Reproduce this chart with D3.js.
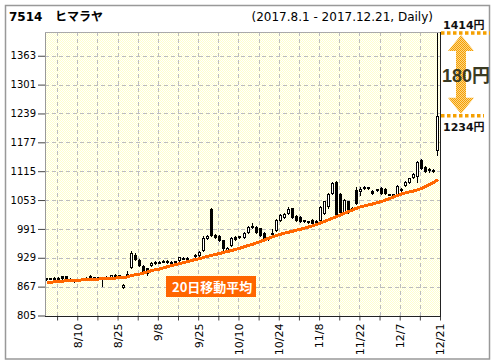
<!DOCTYPE html>
<html><head><meta charset="utf-8">
<script src="https://cdn.jsdelivr.net/npm/d3@7"></script>
<style>body{margin:0;background:#fff}svg{display:block}</style>
</head><body><svg id="c" width="496" height="364"></svg>
<script>
const dates = ["8/1","8/2","8/3","8/4","8/7","8/8","8/9","8/10","8/14","8/15","8/16","8/17","8/18","8/21","8/22","8/23","8/24","8/25","8/28","8/29","8/30","8/31",
"9/1","9/4","9/5","9/6","9/7","9/8","9/11","9/12","9/13","9/14","9/15","9/19","9/20","9/21","9/22","9/25","9/26","9/27","9/28","9/29",
"10/2","10/3","10/4","10/5","10/6","10/10","10/11","10/12","10/13","10/16","10/17","10/18","10/19","10/20","10/23","10/24","10/25","10/26","10/27","10/30","10/31",
"11/1","11/2","11/6","11/7","11/8","11/9","11/10","11/13","11/14","11/15","11/16","11/17","11/20","11/21","11/22","11/24","11/27","11/28","11/29","11/30",
"12/1","12/4","12/5","12/6","12/7","12/8","12/11","12/12","12/13","12/14","12/15","12/18","12/19","12/20","12/21"];
const open = [883,884,884,886,889,889,884,881,881,883,
885,889,885,887,886,887,888,890,891,867,
893,910,936,925,911,906,914,918,920,923,
923,919,920,924,929,929,925,933,935,946,
972,1033,977,976,967,946,956,973,973,973,
984,996,995,992,983,970,980,989,1010,1017,
1025,1035,1019,1016,1008,1008,1010,1006,1010,1025,
1040,1068,1092,1066,1025,1050,1032,1075,1073,1081,
1079,1073,1074,1079,1077,1065,1066,1066,1075,1085,
1092,1103,1104,1139,1125,1117,1118,1160];
const high = [886,886,887,887,890,890,886,884,883,885,
887,891,888,888,887,889,892,894,892,873,
900,944,940,927,913,908,919,922,923,925,
924,922,923,931,931,930,927,937,944,976,
978,1035,980,978,968,952,974,975,976,984,
998,1003,997,994,985,974,990,1012,1023,1025,
1039,1037,1021,1018,1011,1009,1012,1010,1041,1052,
1069,1092,1095,1068,1055,1052,1038,1082,1082,1083,
1082,1075,1077,1080,1078,1067,1067,1085,1078,1093,
1101,1111,1137,1141,1127,1121,1120,1414];
const low = [882,883,883,884,884,883,882,876,879,882,
884,886,884,884,868,886,887,889,888,864,
892,906,925,912,899,893,912,916,918,919,
918,917,918,922,926,925,922,931,933,944,
969,975,972,965,942,944,954,968,971,971,
982,993,983,976,965,968,977,986,1008,1015,
1023,1015,1009,1006,1006,1004,1002,1004,1008,1022,
1037,1066,1019,1026,1022,1026,1030,1044,1064,1077,
1077,1066,1072,1067,1066,1064,1064,1064,1070,1083,
1090,1101,1092,1119,1113,1113,1114,1150];
const close = [885,885,886,885,885,884,883,880,882,884,
886,889,887,885,884,888,891,893,890,871,
895,939,926,914,901,896,917,920,921,920,
919,921,922,930,928,927,924,935,942,972,
975,977,974,967,951,951,972,970,975,982,
996,997,985,978,967,972,982,1010,1021,1023,
1034,1017,1011,1008,1010,1006,1004,1008,1039,1050,
1067,1089,1021,1028,1053,1028,1036,1046,1076,1079,
1081,1068,1076,1069,1068,1066,1065,1083,1077,1092,
1100,1110,1135,1121,1115,1119,1116,1234];
const ma20 = [875.5,876.5,877.5,878,879,879.5,880,880.5,881,881.5,
882,882.5,883,883.5,884,884.5,885,885.5,886,886.5,
888,891,892.5,894,896.5,899,901.5,903.5,905,907.5,
910,912.5,914.5,916.5,919,921,923.5,925.5,927.5,930,
932.5,934.5,936.5,938.5,941,943,945,947.5,950,953,
955.5,958,961,964,967.5,971,974,977,979.5,982,
984,986,988.5,990.5,993,995.5,998,1001,1004,1007.5,
1011,1014.5,1018,1021.5,1025.5,1029,1032.5,1036,1039,1041,
1043,1045,1047.5,1050,1053,1056,1059.5,1063,1066,1068.5,
1070.5,1072.5,1075,1078.5,1082.5,1087,1091.5,1097];
const yTicks = [805,867,929,991,1053,1115,1177,1239,1301,1363];
const xLabels = ["8/10","8/25","9/8","9/25","10/10","10/24","11/8","11/22","12/7","12/21"];
const title = "7514", name = "ヒマラヤ", period = "(2017.8.1 - 2017.12.21, Daily)";
const maLabel = "20日移動平均";
const hiVal = 1414, baseVal = 1234;

const svg = d3.select("#c");
const P = {l:45, r:440, t:32, b:315.5};
const n = dates.length;
const x = d3.scaleLinear().domain([0, n]).range([P.l, P.r]);
const y = d3.scaleLinear().domain([805, 1414]).range([P.b, P.t]);
const defs = svg.append("defs");
const bgp = defs.append("pattern").attr("id","bgp").attr("patternUnits","userSpaceOnUse").attr("width",2).attr("height",2);
bgp.append("rect").attr("width",2).attr("height",2).attr("fill","#ffffff");
bgp.append("rect").attr("width",1).attr("height",1).attr("fill","#ffffcc");
bgp.append("rect").attr("x",1).attr("y",1).attr("width",1).attr("height",1).attr("fill","#ffffcc");
const arp = defs.append("pattern").attr("id","arp").attr("patternUnits","userSpaceOnUse").attr("width",2).attr("height",2);
arp.append("rect").attr("width",2).attr("height",2).attr("fill","#fcd58a");
arp.append("rect").attr("width",1).attr("height",1).attr("fill","#f5a000");
arp.append("rect").attr("x",1).attr("y",1).attr("width",1).attr("height",1).attr("fill","#f5a000");
defs.append("clipPath").attr("id","clip").append("rect").attr("x",P.l).attr("y",P.t-1).attr("width",P.r-P.l).attr("height",P.b-P.t+1);

// outer frame
svg.append("rect").attr("x",5.5).attr("y",5.5).attr("width",484).attr("height",353.5)
  .attr("fill","#fff").attr("stroke","#999").attr("stroke-width",1.5);

// header
svg.append("text").attr("x",9).attr("y",21).attr("font-family","DejaVu Sans").attr("font-weight","bold").attr("font-size",12).text(title);
svg.append("text").attr("x",55).attr("y",21).attr("font-family","Noto Sans CJK JP").attr("font-weight","bold").attr("font-size",12).text(name);
svg.append("text").attr("x",433).attr("y",21).attr("text-anchor","end").attr("font-family","DejaVu Sans").attr("font-size",12).text(period);

// plot bg
svg.append("rect").attr("x",P.l).attr("y",P.t).attr("width",P.r-P.l).attr("height",P.b-P.t).attr("fill","url(#bgp)");

// grid
const g = svg.append("g").attr("shape-rendering","crispEdges");
const gridIdx = d3.range(n, 0, -5);
g.selectAll(".vg").data(gridIdx).join("line").attr("x1",d=>Math.round(x(d))+0.5).attr("x2",d=>Math.round(x(d))+0.5)
  .attr("y1",P.t).attr("y2",P.b).attr("stroke","#bdbdbd").attr("stroke-dasharray","4,3");
g.selectAll(".hg").data(yTicks.slice(1)).join("line").attr("y1",d=>Math.round(y(d))+0.5).attr("y2",d=>Math.round(y(d))+0.5)
  .attr("x1",P.l).attr("x2",P.r).attr("stroke","#bdbdbd").attr("stroke-dasharray","4,3");

// y axis
const ya = svg.append("g").attr("transform",`translate(${P.l},0)`)
  .call(d3.axisLeft(y).tickValues(yTicks).tickFormat(d3.format("d")).tickSize(7).tickPadding(2));
ya.select(".domain").remove();
ya.selectAll("line").attr("stroke","#444");
ya.selectAll("text").attr("font-family","DejaVu Sans").attr("font-size",10).attr("fill","#000");

// x axis
const labIdx = new Map(xLabels.map(l=>[dates.indexOf(l)+1, l]));
const xa = svg.append("g").attr("transform",`translate(0,${P.b})`)
  .call(d3.axisBottom(x).tickValues(gridIdx).tickFormat(d=>labIdx.get(d)||"").tickSize(5));
xa.select(".domain").remove();
xa.selectAll("line").attr("stroke","#444");
xa.selectAll("text").attr("transform","rotate(-90)").attr("x",-8).attr("y",0).attr("dy","0.35em")
  .style("text-anchor","end").attr("font-family","DejaVu Sans").attr("font-size",11).attr("fill","#000");

// candles
const cg = svg.append("g").attr("clip-path","url(#clip)").attr("shape-rendering","crispEdges");
const idx = d3.range(n);
const cx = i => Math.round(x(i+0.5));
cg.selectAll(".w").data(idx).join("line").attr("x1",i=>cx(i)-0.5).attr("x2",i=>cx(i)-0.5)
  .attr("y1",i=>Math.round(y(high[i]))).attr("y2",i=>Math.round(y(low[i]))+1).attr("stroke","#000");
cg.selectAll(".b").data(idx).join("rect")
  .attr("x",i=>cx(i)-1.5).attr("width",2)
  .attr("y",i=>Math.round(y(Math.max(open[i],close[i])))+0.5)
  .attr("height",i=>Math.max(1,Math.round(y(Math.min(open[i],close[i])))-Math.round(y(Math.max(open[i],close[i])))))
  .attr("fill",i=>close[i]>=open[i]?"#fff":"#000").attr("stroke","#000");

// MA line
svg.append("path").datum(ma20).attr("fill","none").attr("stroke","#ff6600").attr("stroke-width",3)
  .attr("shape-rendering","crispEdges")
  .attr("d",d3.line().x((d,i)=>x(i+0.5)).y(d=>y(d)));

// plot borders
const bd = svg.append("g").attr("shape-rendering","crispEdges");
bd.append("line").attr("x1",P.l+0.5).attr("x2",P.l+0.5).attr("y1",P.t).attr("y2",P.b).attr("stroke","#999");
bd.append("line").attr("x1",P.l).attr("x2",P.r).attr("y1",P.t+0.5).attr("y2",P.t+0.5).attr("stroke","#aaa");
bd.append("line").attr("x1",P.l).attr("x2",P.r+1).attr("y1",Math.round(P.b)+0.5).attr("y2",Math.round(P.b)+0.5).attr("stroke","#222");
bd.append("line").attr("x1",P.r+0.5).attr("x2",P.r+0.5).attr("y1",P.t).attr("y2",P.b+1).attr("stroke","#222");

// MA label
svg.append("rect").attr("x",166).attr("y",276).attr("width",90).attr("height",21).attr("fill","#ff6600");
svg.append("text").attr("x",172).attr("y",291.5).attr("fill","#fff").attr("font-weight","bold")
  .attr("font-family","Noto Sans CJK JP").attr("font-size",13).text(maLabel);

// annotation
const yH = y(hiVal), yB = y(baseVal), ax = 461;
svg.append("line").attr("x1",441).attr("x2",490).attr("y1",yH+1).attr("y2",yH+1)
  .attr("stroke","#f5a000").attr("stroke-width",3.5).attr("stroke-dasharray","3.5,2.5");
svg.append("line").attr("x1",441).attr("x2",484).attr("y1",yB).attr("y2",yB)
  .attr("stroke","#f5a000").attr("stroke-width",3.5).attr("stroke-dasharray","3.5,2.5");
const t1 = yH+3, t2 = yB-2, hh = 16;
const arrowPts = [[ax,t1],[ax+13,t1+hh],[ax+5,t1+hh],[ax+5,t2-hh],[ax+13,t2-hh],[ax,t2],[ax-13,t2-hh],[ax-5,t2-hh],[ax-5,t1+hh],[ax-13,t1+hh]];
svg.append("polygon").attr("points",arrowPts.map(p=>p.join(",")).join(" ")).attr("fill","url(#arp)");
svg.append("text").attr("x",443).attr("y",29).attr("font-family","DejaVu Sans, Noto Sans CJK JP").attr("font-weight","bold").attr("font-size",11).attr("fill","#111").text(hiVal+"円");
svg.append("text").attr("x",443).attr("y",130.5).attr("font-family","DejaVu Sans, Noto Sans CJK JP").attr("font-weight","bold").attr("font-size",11).attr("fill","#111").text(baseVal+"円");
svg.append("text").attr("x",442).attr("y",81.5).attr("font-family","Liberation Sans, Noto Sans CJK JP").attr("font-weight","bold").attr("font-size",18).attr("fill","#3a3a22").text((hiVal-baseVal)+"円");
</script></body></html>
